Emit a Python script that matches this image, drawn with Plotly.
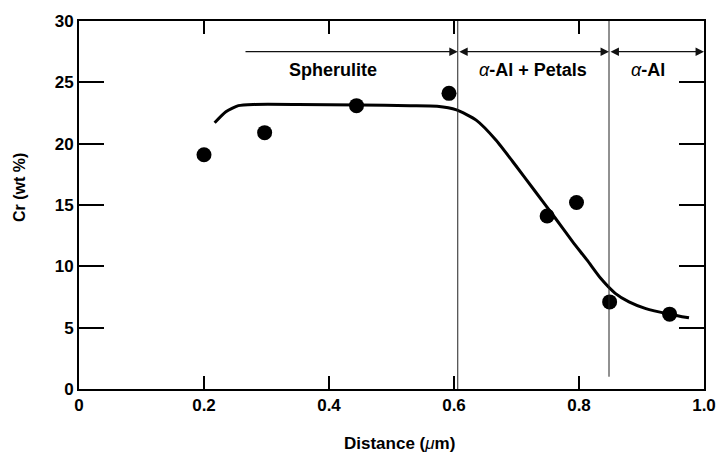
import plotly.graph_objects as go

# measured points
dist_pts = [0.20, 0.297, 0.444, 0.592, 0.749, 0.796, 0.849, 0.945]
cr_pts = [19.1, 20.9, 23.1, 24.1, 14.1, 15.2, 7.1, 6.1]

# fitted trend curve
dist_curve = [0.217, 0.235, 0.255, 0.28, 0.35, 0.45, 0.53, 0.573, 0.604, 0.636, 0.667, 0.699, 0.730, 0.761, 0.79, 0.813, 0.835, 0.858, 0.88, 0.907, 0.945, 0.976]
cr_curve = [21.7, 22.6, 23.1, 23.2, 23.2, 23.15, 23.1, 23.05, 22.75, 21.9, 20.3, 18.2, 16.1, 14.0, 12.0, 10.5, 9.0, 7.8, 7.1, 6.55, 6.1, 5.8]

# region boundaries and labels
boundaries = [0.606, 0.848]
region_starts = [0.264, 0.606, 0.848]
region_ends = [0.606, 0.848, 1.0]
region_labels = ["<b>Spherulite</b>", "<i>α</i><b>-Al + Petals</b>", "<i>α</i><b>-Al</b>"]
region_label_x = [0.407, 0.726, 0.91]
arrow_y = 27.5
label_y = 26.0

x_ticks = [0, 0.2, 0.4, 0.6, 0.8, 1.0]
x_ticklabels = ["0", "0.2", "0.4", "0.6", "0.8", "1.0"]
y_ticks = [0, 5, 10, 15, 20, 25, 30]

FONT = "Liberation Sans, Arial, Helvetica, sans-serif"

fig = go.Figure()
fig.add_trace(go.Scatter(x=dist_curve, y=cr_curve, mode="lines",
                         line=dict(color="black", width=3, shape="spline", smoothing=0.6),
                         hoverinfo="skip", showlegend=False))
fig.add_trace(go.Scatter(x=dist_pts, y=cr_pts, mode="markers",
                         marker=dict(color="black", size=15),
                         showlegend=False))

# vertical boundary lines
fig.add_shape(type="line", x0=boundaries[0], x1=boundaries[0], y0=0, y1=30,
              xref="x", yref="y", line=dict(color="#222", width=1))
fig.add_shape(type="line", x0=boundaries[1], x1=boundaries[1], y0=1.0, y1=30,
              xref="x", yref="y", line=dict(color="#222", width=1))

annotations = []
sides = ["end", "end+start", "end+start"]
for s, e, side in zip(region_starts, region_ends, sides):
    annotations.append(dict(x=e, y=arrow_y, ax=s, ay=arrow_y, xref="x", yref="y",
                            axref="x", ayref="y", text="", showarrow=True,
                            arrowhead=2, arrowsize=1.3, arrowwidth=1.3,
                            arrowside=side, arrowcolor="#111",
                            startarrowhead=2, startarrowsize=1.3))
for lx, lt in zip(region_label_x, region_labels):
    annotations.append(dict(x=lx, y=label_y, xref="x", yref="y", text=lt, showarrow=False,
                            font=dict(family=FONT, size=18, color="black"),
                            xanchor="center", yanchor="middle"))
annotations.append(dict(x=0.513, y=-0.149, xref="paper", yref="paper",
                        text="<b>Distance (</b><i>μ</i><b>m)</b>", showarrow=False,
                        font=dict(family=FONT, size=17, color="black"),
                        xanchor="center", yanchor="middle"))
annotations.append(dict(x=-0.096, y=0.546, xref="paper", yref="paper",
                        text="<b>Cr (wt %)</b>", showarrow=False, textangle=-90,
                        font=dict(family=FONT, size=16, color="black"),
                        xanchor="center", yanchor="middle"))

fig.update_layout(
    width=728, height=464,
    margin=dict(l=79, r=12, t=12, b=75),
    paper_bgcolor="white", plot_bgcolor="white",
    font=dict(family=FONT, size=17, color="black"),
    annotations=annotations,
    xaxis=dict(range=[0, 1.0], tickvals=x_ticks, ticktext=x_ticklabels,
               ticks="inside", ticklen=13, tickwidth=2, tickcolor="black",
               showline=True, linecolor="black", linewidth=2, mirror="ticks",
               showgrid=False, zeroline=False, tickfont=dict(size=17, weight="bold")),
    yaxis=dict(range=[0, 30], tickvals=y_ticks,
               ticks="inside", ticklen=25, tickwidth=2, tickcolor="black",
               showline=True, linecolor="black", linewidth=2, mirror="ticks",
               showgrid=False, zeroline=False, tickfont=dict(size=17, weight="bold")),
)

fig.write_html("out.html")
